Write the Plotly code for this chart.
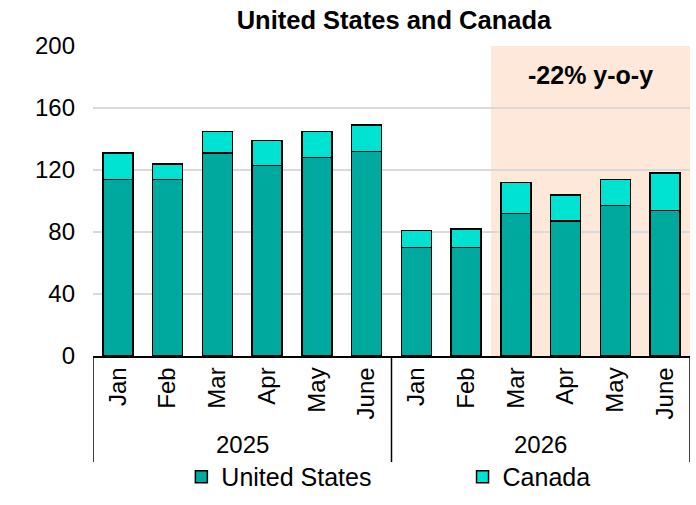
import plotly.graph_objects as go

years = ["2025"] * 6 + ["2026"] * 6
months = ["Jan", "Feb", "Mar", "Apr", "May", "June"] * 2
us = [114, 114, 131, 123, 128, 132, 70, 70, 92, 87, 97, 94]
canada = [17, 10, 14, 16, 17, 17, 11, 12, 20, 17, 17, 24]
yticks = [0, 40, 80, 120, 160, 200]

US_COLOR = "#00A99D"
CA_COLOR = "#00E3D3"
FONT = "Liberation Sans, Arial, sans-serif"

idx = list(range(len(months)))

fig = go.Figure()
fig.add_trace(go.Bar(x=idx, y=us, name="United States", legend="legend",
                     marker=dict(color=US_COLOR, line=dict(color="black", width=1.5))))
fig.add_trace(go.Bar(x=idx, y=canada, name="Canada", legend="legend2",
                     marker=dict(color=CA_COLOR, line=dict(color="black", width=1.5))))

# shaded highlight for last four months
fig.add_shape(type="rect", xref="x", yref="y", x0=7.5, x1=11.5, y0=0, y1=200,
              fillcolor="#FDE8D9", line_width=0, layer="below")
fig.add_annotation(x=9.5, y=181, xref="x", yref="y", text="<b>-22% y-o-y</b>",
                   showarrow=False, font=dict(size=25, color="black", family=FONT))

# year group labels and dividers
unique_years = []
for yv in years:
    if yv not in unique_years:
        unique_years.append(yv)
bounds = [-0.5]
for yv in unique_years:
    pos = [i for i, v in enumerate(years) if v == yv]
    fig.add_annotation(x=sum(pos) / len(pos), y=-0.287, xref="x", yref="paper",
                       text=yv, showarrow=False, yanchor="middle",
                       font=dict(size=24, color="black", family=FONT))
    bounds.append(max(pos) + 0.5)
for b in bounds:
    fig.add_shape(type="line", xref="x", yref="paper", x0=b, x1=b, y0=0, y1=-0.342,
                  line=dict(color="black", width=1.5))

legend_common = dict(orientation="h", xanchor="left", y=-0.39, yanchor="middle",
                     font=dict(size=25, family=FONT), bgcolor="rgba(0,0,0,0)")

fig.update_layout(
    barmode="stack",
    bargap=0.4,
    width=696, height=505,
    margin=dict(l=93, r=6, t=46, b=149, autoexpand=False),
    plot_bgcolor="white", paper_bgcolor="white",
    font=dict(family=FONT, color="black", size=25),
    title=dict(text="<b>United States and Canada</b>", x=0.566, xanchor="center",
               y=0.96, yanchor="middle", font=dict(size=25.5, family=FONT, color="black")),
    yaxis=dict(range=[0, 200], tickvals=yticks, showgrid=True, gridcolor="#D9D9D9",
               gridwidth=1.5, zeroline=False, tickfont=dict(size=24), ticks="",
               showline=False, ticklabelstandoff=17, automargin=False),
    xaxis=dict(range=[-0.5, len(months) - 0.5], tickvals=idx, ticktext=months,
               showline=True, linecolor="black", linewidth=1.5, showgrid=False,
               zeroline=False, tickangle=-90, tickfont=dict(size=24), ticks="",
               automargin=False),
    legend=dict(x=0.148, **legend_common),
    legend2=dict(x=0.619, **legend_common),
    showlegend=True,
)

fig.write_html("out.html")
